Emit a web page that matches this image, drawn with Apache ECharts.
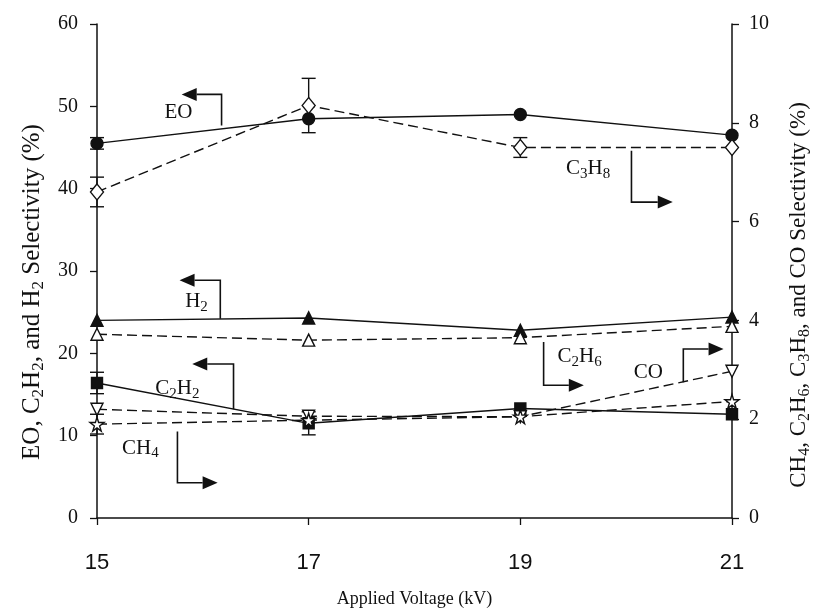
<!DOCTYPE html>
<html><head><meta charset="utf-8">
<script src="https://cdn.jsdelivr.net/npm/echarts@6/dist/echarts.min.js"></script>
<style>html,body{margin:0;padding:0;background:#fff}#c{width:814px;height:613px}</style>
</head><body><div id="c"></div>
<script>
// ---- data ----
const voltage = [15, 17, 19, 21];
const xTicks = [15, 17, 19, 21];
const leftTicks = [0, 10, 20, 30, 40, 50, 60];
const rightTicks = [0, 2, 4, 6, 8, 10];
// left axis series (%)
const eo   = [45.5, 48.5, 49.0, 46.5];
const h2   = [24.0, 24.3, 22.8, 24.4];
const c2h2 = [16.4, 11.5, 13.3, 12.6];
// right axis series (%)
const c3h8 = [6.6, 8.35, 7.5, 7.5];
const c2h6 = [3.72, 3.6, 3.65, 3.88];
const co   = [2.2, 2.06, 2.05, 2.97];
const ch4  = [1.9, 1.98, 2.05, 2.36];
// error bars (± value)
const eoErr   = [0.7, 0, 0, 0];
const c2h2Err = [1.3, 1.4, 0, 0];
const c3h8Err = [0.3, 0.55, 0.2, 0];
const ch4Err  = [0.2, 0, 0, 0];
// annotations: label, text centre and arrow path (data units on left axis), last point = arrow tip
const annotations = [
  {label: 'EO',    text: [15.77, 49.3], path: [[16.177, 47.66], [16.177, 51.45], [15.80, 51.45]]},
  {label: 'H_2',   text: [15.94, 26.3], path: [[16.165, 24.2], [16.165, 28.88], [15.78, 28.88]]},
  {label: 'C_2H_2',text: [15.76, 15.7], path: [[16.29, 13.2], [16.29, 18.7], [15.90, 18.7]]},
  {label: 'CH_4',  text: [15.41, 8.5], path: [[15.76, 10.5], [15.76, 4.28], [16.14, 4.28]]},
  {label: 'C_3H_8',text: [19.64, 42.5], path: [[20.05, 44.6], [20.05, 38.37], [20.44, 38.37]]},
  {label: 'C_2H_6',text: [19.56, 19.6], path: [[19.22, 21.39], [19.22, 16.13], [19.60, 16.13]]},
  {label: 'CO',    text: [20.21, 17.7], path: [[20.54, 16.5], [20.54, 20.53], [20.92, 20.53]]}
];

// ---- chart ----
const serif = '"Liberation Serif","Times New Roman",serif';
const ink = '#111';
function chem(s) {
  const parts = s.split(/_(\d)/);
  let out = '';
  parts.forEach((p, i) => { if (!p) return; out += (i % 2 ? '{s|' : '{n|') + p + '}'; });
  return out;
}
function richStyle(big, small, lh) {
  return {
    n: {fontFamily: serif, fontSize: big, lineHeight: lh, color: ink, verticalAlign: 'middle'},
    s: {fontFamily: serif, fontSize: small, lineHeight: small, color: ink, verticalAlign: 'bottom'}
  };
}
const star = 'path://M50,0 L61,35 L98,35 L68,57 L79,91 L50,70 L21,91 L32,57 L2,35 L39,35 Z';
const invTri = 'path://M0,0 L10,0 L5,9 Z';

function lineSeries(name, vals, yIdx, symbol, size, filled, dashed) {
  return {
    name, type: 'line', yAxisIndex: yIdx,
    data: voltage.map((v, i) => [v, vals[i]]),
    symbol, symbolSize: size, showAllSymbol: true,
    lineStyle: {color: ink, width: 1.4, type: dashed ? [10, 5] : 'solid'},
    itemStyle: {color: filled ? ink : '#fff', borderColor: ink, borderWidth: 1.4},
    z: 3, animation: false
  };
}
function errSeries(vals, errs, yIdx) {
  const data = [];
  voltage.forEach((v, i) => { if (errs[i] > 0) data.push([v, vals[i] - errs[i], vals[i] + errs[i]]); });
  return {
    type: 'custom', yAxisIndex: yIdx, data, z: 2, animation: false,
    encode: {x: 0, y: [1, 2]},
    renderItem(params, api) {
      const lo = api.coord([api.value(0), api.value(1)]);
      const hi = api.coord([api.value(0), api.value(2)]);
      const w = 7, st = {stroke: ink, lineWidth: 1.4};
      return {type: 'group', children: [
        {type: 'line', shape: {x1: lo[0], y1: lo[1], x2: hi[0], y2: hi[1]}, style: st},
        {type: 'line', shape: {x1: lo[0] - w, y1: lo[1], x2: lo[0] + w, y2: lo[1]}, style: st},
        {type: 'line', shape: {x1: hi[0] - w, y1: hi[1], x2: hi[0] + w, y2: hi[1]}, style: st}
      ]};
    }
  };
}
const arrowSeries = {
  type: 'custom', yAxisIndex: 0, z: 4, animation: false,
  data: annotations.map(a => a.path[a.path.length - 1]),
  renderItem(params, api) {
    const a = annotations[params.dataIndex];
    const pts = a.path.map(p => api.coord(p));
    const tip = pts[pts.length - 1], prev = pts[pts.length - 2];
    let dx = tip[0] - prev[0], dy = tip[1] - prev[1];
    const L = Math.hypot(dx, dy); dx /= L; dy /= L;
    const hl = 15, hw = 6.5;
    const base = [tip[0] - dx * hl, tip[1] - dy * hl];
    const line = pts.slice(0, -1).concat([base]);
    return {type: 'group', children: [
      {type: 'polyline', shape: {points: line}, style: {stroke: ink, lineWidth: 1.6, fill: null}},
      {type: 'polygon', shape: {points: [tip, [base[0] - dy * hw, base[1] + dx * hw], [base[0] + dy * hw, base[1] - dx * hw]]}, style: {fill: ink}}
    ]};
  }
};
const labelSeries = {
  type: 'scatter', yAxisIndex: 0, symbolSize: 0, z: 5, animation: false, silent: true,
  itemStyle: {opacity: 1},
  data: annotations.map(a => ({value: a.text, label: {formatter: chem(a.label)}})),
  label: {show: true, position: 'inside', color: ink, opacity: 1, rich: richStyle(21, 15, 26)}
};

const axisCommon = {
  axisLine: {show: true, onZero: false, lineStyle: {color: ink, width: 1.5}},
  axisTick: {show: true, length: 7, lineStyle: {color: ink, width: 1.3}},
  splitLine: {show: false}
};
const option = {
  backgroundColor: '#fff',
  animation: false,
  grid: {left: 97, right: 82, top: 24, bottom: 95, containLabel: false, outerBoundsMode: 'none'},
  xAxis: Object.assign({
    type: 'value', min: xTicks[0], max: xTicks[xTicks.length - 1], interval: xTicks[1] - xTicks[0],
    axisLabel: {fontFamily: '"Liberation Sans Narrow","Liberation Sans",sans-serif', fontSize: 22, color: ink, margin: 34},
    name: 'Applied Voltage (kV)', nameLocation: 'middle', nameGap: 72,
    nameTextStyle: {fontFamily: serif, fontSize: 18, color: ink}
  }, axisCommon),
  yAxis: [
    Object.assign({
      type: 'value', position: 'left', min: leftTicks[0], max: leftTicks[leftTicks.length - 1], interval: leftTicks[1] - leftTicks[0],
      axisLabel: {fontFamily: serif, fontSize: 20, color: ink, margin: 19},
      name: chem('EO, C_2H_2, and H_2 Selectivity (%)'), nameLocation: 'middle', nameGap: 49, nameRotate: 90,
      nameTextStyle: {rich: richStyle(25, 17, 30), padding: [0, 42, 0, 0]}
    }, axisCommon),
    Object.assign({
      type: 'value', position: 'right', min: rightTicks[0], max: rightTicks[rightTicks.length - 1], interval: rightTicks[1] - rightTicks[0],
      axisLabel: {fontFamily: serif, fontSize: 20, color: ink, margin: 17},
      name: chem('CH_4, C_2H_6, C_3H_8, and CO Selectivity (%)'), nameLocation: 'middle', nameGap: 53, nameRotate: 90,
      nameTextStyle: {rich: richStyle(23, 16, 28), padding: [0, 48, 0, 0]}
    }, axisCommon)
  ],
  series: [
    errSeries(eo, eoErr, 0),
    errSeries(c2h2, c2h2Err, 0),
    errSeries(c3h8, c3h8Err, 1),
    errSeries(ch4, ch4Err, 1),
    lineSeries('EO', eo, 0, 'circle', 12, true, false),
    lineSeries('H2', h2, 0, 'triangle', 12, true, false),
    lineSeries('C2H2', c2h2, 0, 'rect', 11, true, false),
    lineSeries('C3H8', c3h8, 1, 'diamond', [13, 16], false, true),
    lineSeries('C2H6', c2h6, 1, 'triangle', 12, false, true),
    lineSeries('CO', co, 1, invTri, 12, false, true),
    lineSeries('CH4', ch4, 1, star, 14, false, true),
    arrowSeries,
    labelSeries
  ]
};
const chart = echarts.init(document.getElementById('c'));
chart.setOption(option);
</script></body></html>
